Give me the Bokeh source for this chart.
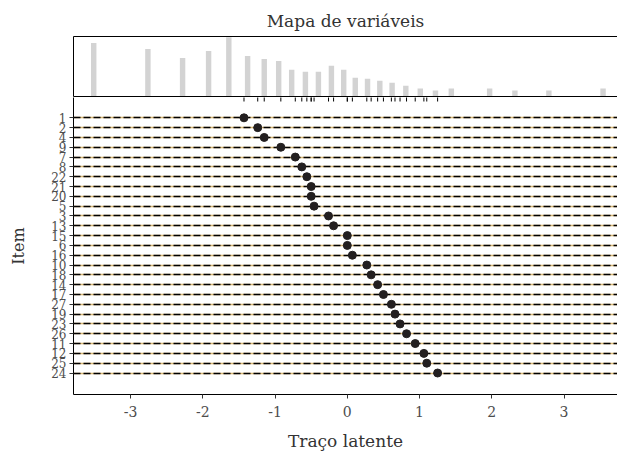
from bokeh.plotting import figure
from bokeh.layouts import column
from bokeh.models import Range1d, LinearAxis, FixedTicker
from bokeh.embed import file_html
from bokeh.resources import INLINE

# ---- data ----
items = ["1", "2", "4", "9", "7", "8", "22", "21", "20", "5", "3", "13", "15",
         "6", "16", "10", "18", "14", "17", "27", "19", "23", "26", "11", "12",
         "25", "24"]
theta = [-1.43, -1.24, -1.15, -0.92, -0.72, -0.63, -0.56, -0.50, -0.50, -0.46,
         -0.26, -0.19, 0.00, 0.00, 0.07, 0.27, 0.33, 0.42, 0.50, 0.61, 0.66,
         0.73, 0.82, 0.94, 1.06, 1.10, 1.25]

hist_x = [-3.51, -2.76, -2.28, -1.92, -1.64, -1.38, -1.15, -0.95, -0.77, -0.58,
          -0.40, -0.22, -0.05, 0.11, 0.28, 0.45, 0.62, 0.81, 1.01, 1.22, 1.44,
          1.97, 2.32, 2.79, 3.54]
hist_h = [54, 48, 39, 46, 60, 41, 38, 36, 27, 25, 25, 31, 27, 19, 18, 16, 14,
          11, 8, 6, 8, 8, 6, 6, 8]

x_ticks = [-3, -2, -1, 0, 1, 2, 3]

FONT = "DejaVu Serif"
TXT = "#333333"
TICKTXT = "#4d4d4d"

xr = Range1d(-3.79, 3.74)
yr_bot = Range1d(-1.19, 29.07)
ypos = [len(items) - i for i in range(len(items))]


def bare_axis():
    return LinearAxis(ticker=FixedTicker(ticks=[]), major_tick_in=0, major_tick_out=0,
                      minor_tick_in=0, minor_tick_out=0, major_label_standoff=0,
                      axis_line_color="black", axis_line_width=1)


# ---- top panel (histogram) ----
top = figure(width=617, height=97, x_range=xr, y_range=Range1d(0, 60.7),
             output_backend="svg", toolbar_location=None,
             x_axis_location=None, y_axis_location=None,
             min_border_left=73, min_border_right=0, min_border_top=36,
             min_border_bottom=1, title="Mapa de variáveis")
top.outline_line_color = None
top.xgrid.visible = False
top.ygrid.visible = False
top.title.text_font = FONT
top.title.text_font_size = "17px"
top.title.text_font_style = "normal"
top.title.text_color = TXT
top.title.align = "center"
top.title.standoff = 12

top.vbar(x=hist_x, top=hist_h, width=0.075, color="#d3d3d3", line_color=None)

top.add_layout(bare_axis(), "above")
top.add_layout(bare_axis(), "left")
top.add_layout(bare_axis(), "below")

# ---- bottom panel (items) ----
bot = figure(width=617, height=361, x_range=xr, y_range=yr_bot,
             output_backend="svg", toolbar_location=None,
             min_border_left=73, min_border_right=0, min_border_top=0,
             min_border_bottom=64)
bot.outline_line_color = None
bot.xgrid.visible = False
bot.ygrid.visible = False

bot.hspan(y=ypos, line_color="#d9b874", line_width=1.4)
bot.hspan(y=ypos, line_color="black", line_width=1.4, line_dash="7 3")
bot.scatter(x=theta, y=ypos, size=8, color="#231f20", line_color="#231f20")
# rug of item locations hanging from the top of the item panel
bot.scatter(x=theta, y=[yr_bot.end] * len(theta), marker="dash", angle=90,
            angle_units="deg", size=8, line_color="black", line_width=1)

xa = bot.xaxis[0]
xa.ticker = FixedTicker(ticks=x_ticks)
xa.major_label_overrides = {t: str(t) for t in x_ticks}
xa.axis_label = "Traço latente"
xa.axis_label_text_font = FONT
xa.axis_label_text_font_size = "17px"
xa.axis_label_text_font_style = "normal"
xa.axis_label_text_color = TXT
xa.axis_label_standoff = 11
xa.major_label_text_font = FONT
xa.major_label_text_font_size = "14px"
xa.major_label_text_color = TICKTXT
xa.major_label_standoff = 7
xa.major_tick_out = 4
xa.major_tick_in = 0
xa.minor_tick_out = 0
xa.minor_tick_in = 0
xa.axis_line_color = "black"
xa.major_tick_line_color = "#333333"

ya = bot.yaxis[0]
ya.ticker = FixedTicker(ticks=ypos)
ya.major_label_overrides = {y: lab for y, lab in zip(ypos, items)}
ya.major_label_text_font = FONT
ya.major_label_text_font_size = "12px"
ya.major_label_text_color = TICKTXT
ya.major_label_standoff = 3
ya.major_tick_out = 4
ya.major_tick_in = 0
ya.minor_tick_out = 0
ya.minor_tick_in = 0
ya.axis_line_color = "black"
ya.major_tick_line_color = "#333333"
ya.axis_label = "Item"
ya.axis_label_text_font = FONT
ya.axis_label_text_font_size = "16px"
ya.axis_label_text_font_style = "normal"
ya.axis_label_text_color = TXT
ya.axis_label_standoff = 20

layout = column(top, bot, spacing=0)
open("out.html", "w").write(file_html(layout, INLINE))
